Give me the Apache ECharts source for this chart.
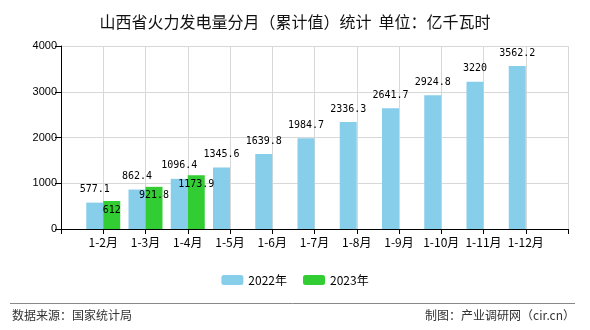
<!DOCTYPE html>
<html>
<head>
<meta charset="utf-8">
<script src="https://cdn.jsdelivr.net/npm/echarts@6/dist/echarts.min.js"></script>
<style>html,body{margin:0;padding:0;background:#fff}#c{width:590px;height:330px}</style>
</head>
<body>
<div id="c"></div>
<script>
var categories = ['1-2月','1-3月','1-4月','1-5月','1-6月','1-7月','1-8月','1-9月','1-10月','1-11月','1-12月'];
var values2022 = [577.1, 862.4, 1096.4, 1345.6, 1639.8, 1984.7, 2336.3, 2641.7, 2924.8, 3220, 3562.2];
var values2023 = [612, 921.8, 1173.9];
var seriesNames = ['2022年', '2023年'];
var yTicks = [0, 1000, 2000, 3000, 4000];

var axisCats = [''].concat(categories).concat(['']);
function pad(arr) {
  var out = [null];
  for (var i = 0; i < categories.length; i++) out.push(i < arr.length ? arr[i] : null);
  out.push(null);
  return out;
}

var chart = echarts.init(document.getElementById('c'), null, {renderer: 'canvas'});
var labelFont = {fontFamily: 'DejaVu Sans Mono', fontSize: 10, color: '#000'};
chart.setOption({
  animation: false,
  title: {
    text: '山西省火力发电量分月（累计值）统计  单位：亿千瓦时',
    left: 'center', top: 9,
    textStyle: {fontFamily: 'Noto Sans CJK SC', fontSize: 16, fontWeight: 'normal', color: '#111'}
  },
  legend: {
    data: seriesNames, left: 'center', top: 269,
    itemWidth: 22, itemHeight: 10, itemGap: 16,
    textStyle: {fontFamily: 'Noto Sans CJK SC', fontSize: 12, color: '#000'}
  },
  grid: {left: 61, right: 22, top: 46, bottom: 101, containLabel: false},
  xAxis: {
    type: 'category', data: axisCats, boundaryGap: false,
    axisLine: {lineStyle: {color: '#000'}},
    axisTick: {show: true, length: 5, interval: 0, lineStyle: {color: '#000'}},
    axisLabel: {interval: 0, margin: 7, fontFamily: 'Noto Sans CJK SC', fontSize: 12, color: '#000'},
    splitLine: {show: true, interval: 0, lineStyle: {color: '#d8d8d8'}}
  },
  yAxis: {
    type: 'value', min: yTicks[0], max: yTicks[yTicks.length - 1], interval: 1000,
    axisLine: {show: true, lineStyle: {color: '#000'}},
    axisTick: {show: true, length: 6, lineStyle: {color: '#000'}},
    axisLabel: {margin: 4, fontFamily: 'Liberation Sans', fontSize: 11, color: '#000', formatter: function (v) { return String(v); }},
    splitLine: {show: true, lineStyle: {color: '#d8d8d8'}}
  },
  series: [
    {
      name: seriesNames[0], type: 'bar', data: pad(values2022), barWidth: 17, barGap: '0%',
      itemStyle: {color: '#87CEEB'},
      label: Object.assign({show: true, position: 'top', distance: 8}, labelFont)
    },
    {
      name: seriesNames[1], type: 'bar', data: pad(values2023), barWidth: 17, barGap: '0%',
      itemStyle: {color: '#32CD32'},
      label: Object.assign({show: true, position: 'insideTop', distance: 4}, labelFont)
    }
  ],
  graphic: [
    {type: 'line', shape: {x1: 10, y1: 303.5, x2: 575, y2: 303.5}, style: {stroke: '#888', lineWidth: 1}},
    {type: 'text', left: 12, top: 309, style: {text: '数据来源：国家统计局', font: '12px "Noto Sans CJK SC"', fill: '#333'}},
    {type: 'text', right: 15, top: 309, style: {text: '制图：产业调研网（cir.cn）', font: '12px "Noto Sans CJK SC"', fill: '#333'}}
  ]
});
</script>
</body>
</html>
